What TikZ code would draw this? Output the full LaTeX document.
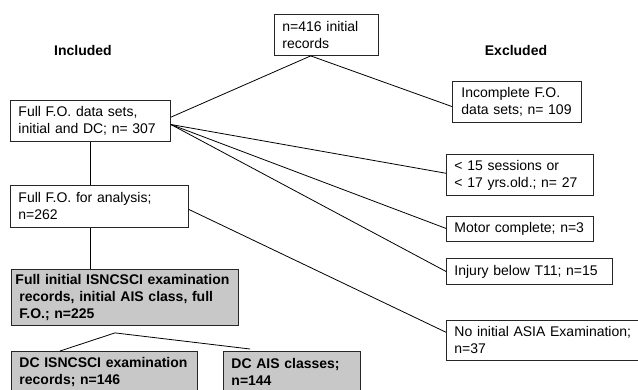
\documentclass[tikz,border=0pt]{standalone}
\usepackage{fontspec}
\setmainfont{Liberation Sans}
\usetikzlibrary{calc}
\definecolor{boxgray}{RGB}{200,200,200}
\tikzset{
  fbox/.style={draw=black!85, line width=0.9pt, anchor=north west, align=left,
    inner xsep=8pt, inner ysep=0pt, font=\fontsize{14}{17}\selectfont},
  gbox/.style={fbox, fill=boxgray, font=\fontsize{14}{17}\selectfont\bfseries},
  conn/.style={draw=black, line width=0.8pt},
  head/.style={font=\fontsize{14}{17}\selectfont\bfseries}
}
\begin{document}
\begin{tikzpicture}[x=1pt,y=-1pt]
\useasboundingbox (0,0) rectangle (638,390);
\clip (0,0) rectangle (638,390);
\node[head] (incl) at (83,50) {Included};
\node[head] (excl) at (516,50) {Excluded};
\node[fbox, text width=88pt, minimum height=41pt] (top) at (274,14) {n=416 initial\\records};
\node[fbox, text width=144pt, minimum height=41pt] (box1) at (10,100) {Full F.O. data sets,\\initial and DC; n= 307};
\node[fbox, text width=113pt, minimum height=41pt] (inc) at (452,81) {\hspace*{1pt}Incomplete F.O.\\\hspace*{1pt}data sets; n= 109};
\node[fbox, text width=131pt, minimum height=41pt] (ses) at (446,154) {< 15 sessions or\\< 17 yrs.old.; n= 27};
\node[fbox, text width=131pt, minimum height=25pt] (mot) at (446,216) {Motor complete;~n=3};
\node[fbox, text width=150pt, minimum height=26pt] (inj) at (446,258) {Injury below T11; n=15};
\node[fbox, text width=184pt, minimum height=40pt] (asia) at (446,320) {No initial ASIA Examination;\\n=37};
\node[fbox, text width=162pt, minimum height=42pt] (ana) at (10,185) {Full F.O. for analysis;\\n=262};
\node[gbox, inner xsep=4pt, text width=219pt, minimum height=56pt] (g1) at (11,269) {Full initial ISNCSCI examination\\\hspace*{3.9pt}records, initial AIS class, full\\\hspace*{3.9pt}F.O.; n=225};
\node[gbox, text width=170pt, minimum height=41pt] (dc1) at (11,351) {DC ISNCSCI examination\\records; n=146};
\node[gbox, text width=121pt, minimum height=41pt] (dc2) at (223,351) {DC AIS classes;\\n=144};
% connectors
\coordinate (split) at ($(top.south west)!0.35!(top.south east)$);
\coordinate (b1out) at ($(box1.north east)!0.585!(box1.south east)$);
\coordinate (anaout) at ($(ana.north east)!0.57!(ana.south east)$);
\coordinate (apex) at ($(g1.south west)+(104,7)$);
\draw[conn] (split) -- ($(box1.north east)!0.41!(box1.south east)$);
\draw[conn] (split) -- ($(inc.north west)!0.61!(inc.south west)$);
\draw[conn] (b1out) -- ($(ses.north west)!0.46!(ses.south west)$);
\draw[conn] (b1out) -- ($(mot.north west)!0.48!(mot.south west)$);
\draw[conn] (b1out) -- ($(inj.north west)!0.5!(inj.south west)$);
\draw[conn] (anaout) -- ($(asia.north west)!0.3!(asia.south west)$);
\draw[conn] (box1.south) -- (box1.south |- ana.north);
\draw[conn] (box1.south |- ana.south) -- (box1.south |- g1.north);
\draw[conn] ($(dc1.north west)+(49,0)$) -- (apex) -- ($(dc2.north west)+(27,-2)$);
\end{tikzpicture}
\end{document}
